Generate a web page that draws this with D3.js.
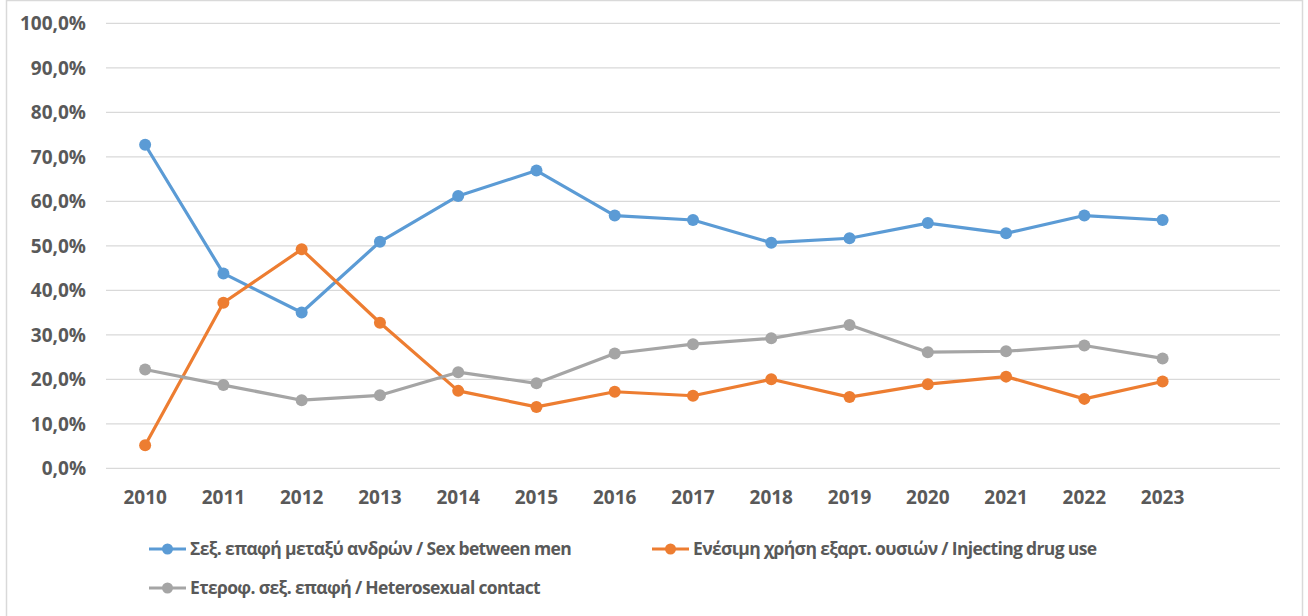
<!DOCTYPE html>
<html>
<head>
<meta charset="utf-8">
<script src="https://cdn.jsdelivr.net/npm/d3@7"></script>
<style>
  body { margin: 0; background: #fff; }
  text { font-family: "Open Sans", "DejaVu Sans", sans-serif; font-weight: bold; fill: #595959; }
</style>
</head>
<body>
<script>
// HIV transmission categories, share per year (%)

const years = ["2010","2011","2012","2013","2014","2015","2016","2017","2018","2019","2020","2021","2022","2023"];

const msm = [72.7, 43.8, 35.0, 50.9, 61.2, 66.9, 56.8, 55.8, 50.7, 51.7, 55.1, 52.8, 56.8, 55.8];
const idu = [5.2, 37.2, 49.2, 32.7, 17.4, 13.8, 17.2, 16.3, 20.0, 16.0, 18.9, 20.6, 15.6, 19.5];
const hetero = [22.2, 18.7, 15.3, 16.4, 21.6, 19.1, 25.8, 27.9, 29.2, 32.2, 26.1, 26.3, 27.6, 24.7];

const seriesNames = ["Σεξ. επαφή μεταξύ ανδρών / Sex between men",
                     "Ενέσιμη χρήση  εξαρτ. ουσιών / Injecting drug use",
                     "Ετεροφ. σεξ. επαφή / Heterosexual contact"];
const colors = ["#5B9BD5", "#ED7D31", "#A5A5A5"];
const yTicks = [0, 10, 20, 30, 40, 50, 60, 70, 80, 90, 100];

const series = [msm, idu, hetero].map((vals, i) => ({
  name: seriesNames[i],
  color: colors[i],
  values: vals.map((v, j) => ({year: years[j], v: v}))
}));

const width = 1308, height = 616;
const margin = {top: 23.3, right: 28, left: 106, bottom: 147.7};

const svg = d3.select("body").append("svg")
  .attr("width", width)
  .attr("height", height);

// outer chart border
svg.append("rect")
  .attr("x", 6.5).attr("y", 0.5)
  .attr("width", 1296).attr("height", 630)
  .attr("fill", "none")
  .attr("stroke", "#D9D9D9")
  .attr("stroke-width", 1.5);

// one empty slot after 2023, as in the original plot area
const x = d3.scaleBand()
  .domain(years.concat(["_"]))
  .range([margin.left, width - margin.right]);

const y = d3.scaleLinear()
  .domain([0, 100])
  .range([height - margin.bottom, margin.top]);

// gridlines
svg.append("g")
  .selectAll("line")
  .data(yTicks)
  .join("line")
  .attr("x1", margin.left)
  .attr("x2", width - margin.right)
  .attr("y1", d => y(d))
  .attr("y2", d => y(d))
  .attr("stroke", "#D9D9D9")
  .attr("stroke-width", 1.3);

// y axis
const yAxis = svg.append("g")
  .attr("transform", "translate(" + (margin.left - 20) + ",0)")
  .call(d3.axisLeft(y)
    .tickValues(yTicks)
    .tickSize(0)
    .tickPadding(0)
    .tickFormat(d => d.toFixed(1).replace(".", ",") + "%"));
yAxis.select(".domain").remove();
yAxis.selectAll("text")
  .style("font-size", "19px")
  .attr("dy", "0.35em");

// x axis
const xAxis = svg.append("g")
  .attr("transform", "translate(0," + (height - margin.bottom) + ")")
  .call(d3.axisBottom(x)
    .tickValues(years)
    .tickSize(0)
    .tickPadding(22));
xAxis.select(".domain").remove();
xAxis.selectAll("text")
  .style("font-size", "19px");

const line = d3.line()
  .x(d => x(d.year) + x.bandwidth() / 2)
  .y(d => y(d.v));

const g = svg.append("g");

series.forEach(s => {
  g.append("path")
    .datum(s.values)
    .attr("d", line)
    .attr("fill", "none")
    .attr("stroke", s.color)
    .attr("stroke-width", 3.2)
    .attr("stroke-linejoin", "round");
  g.selectAll(null)
    .data(s.values)
    .join("circle")
    .attr("cx", d => x(d.year) + x.bandwidth() / 2)
    .attr("cy", d => y(d.v))
    .attr("r", 6)
    .attr("fill", s.color);
});

// legend
const legendPos = [{x: 149, y: 549}, {x: 652, y: 549}, {x: 149, y: 588}];
const legend = svg.append("g")
  .selectAll("g")
  .data(series)
  .join("g")
  .attr("transform", (d, i) => "translate(" + legendPos[i].x + "," + legendPos[i].y + ")");

legend.append("line")
  .attr("x1", 0).attr("x2", 37)
  .attr("stroke", d => d.color)
  .attr("stroke-width", 3.2);
legend.append("circle")
  .attr("cx", 18.5)
  .attr("r", 5.5)
  .attr("fill", d => d.color);
legend.append("text")
  .attr("x", 41)
  .attr("dy", "0.35em")
  .style("font-size", "17.5px")
  .style("letter-spacing", "-0.65px")
  .text(d => d.name);
</script>
</body>
</html>
